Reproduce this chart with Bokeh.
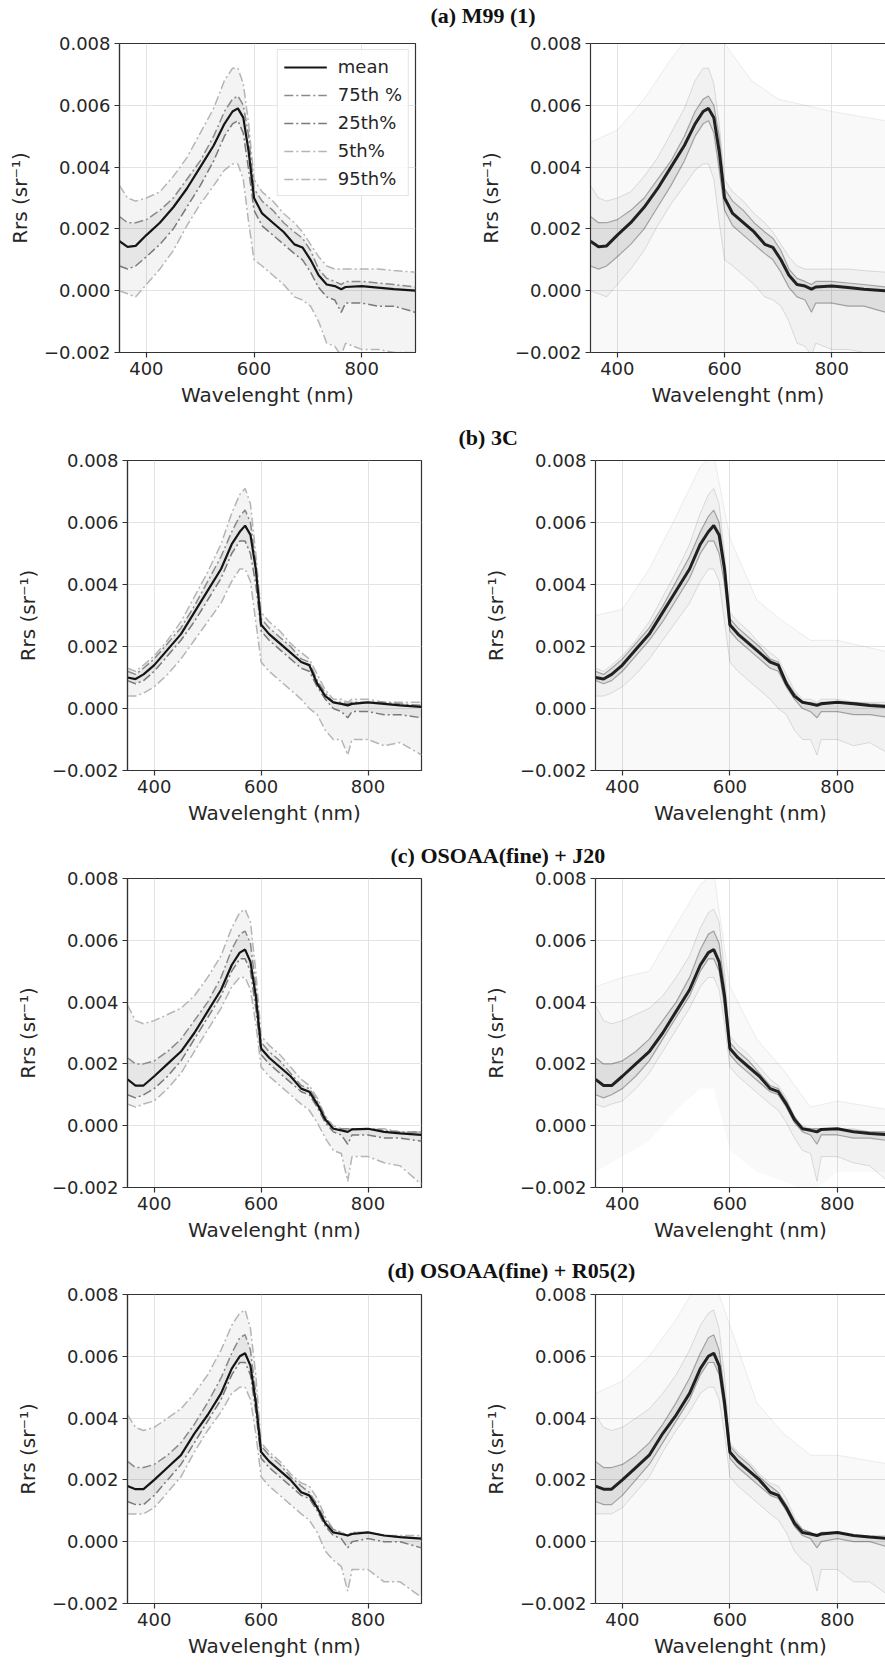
from bokeh.plotting import figure
from bokeh.layouts import column, row
from bokeh.models import (Range1d, FixedTicker, CustomJSTickFormatter, LinearAxis,
                          Legend, LegendItem)
from bokeh.core.properties import value
from bokeh.embed import file_html
from bokeh.resources import INLINE

# ---------------- data ----------------
WL = [350, 365, 380, 400, 425, 450, 475, 500, 525, 545, 560, 570, 580, 590, 600,
      615, 635, 655, 675, 690, 705, 720, 735, 750, 762, 770, 800, 830, 860, 900]

TITLES = ["(a) M99 (1)", "(b) 3C", "(c) OSOAA(fine) + J20", "(d) OSOAA(fine) + R05(2)"]
X_TICKS = [400, 600, 800]
Y_TICKS = [-0.002, 0.0, 0.002, 0.004, 0.006, 0.008]

# (a) M99 (1)
A_MEAN = [0.0016, 0.00142, 0.00145, 0.0018, 0.0022, 0.0027, 0.0033, 0.0040, 0.0047, 0.0054, 0.0058, 0.0059, 0.0056, 0.0045, 0.0030,
          0.0025, 0.0022, 0.0019, 0.0015, 0.0014, 0.0010, 0.0005, 0.0002, 0.00015, 0.00005, 0.00012, 0.00015, 0.0001, 0.00005, 0.0]
A_P75 = [0.0024, 0.0022, 0.0022, 0.0023, 0.0026, 0.0030, 0.0036, 0.0042, 0.0050, 0.0058, 0.0062, 0.0063, 0.0060, 0.0050, 0.0033,
         0.0029, 0.0026, 0.0022, 0.0019, 0.0017, 0.0013, 0.0007, 0.0004, 0.0003, 0.0002, 0.0003, 0.0003, 0.00025, 0.0002, 0.00012]
A_P25 = [0.0008, 0.0007, 0.0008, 0.0011, 0.0015, 0.0020, 0.0027, 0.0034, 0.0042, 0.0050, 0.0054, 0.0055, 0.0051, 0.0039, 0.0026,
         0.0021, 0.0018, 0.0015, 0.0012, 0.0010, 0.0006, 0.0001, -0.0002, -0.0003, -0.0007, -0.0004, -0.0004, -0.0005, -0.0005, -0.0007]
A_P95 = [0.0034, 0.0030, 0.0029, 0.0030, 0.0032, 0.0037, 0.0043, 0.0051, 0.0059, 0.0068, 0.0072, 0.0072, 0.0067, 0.0054, 0.0036,
         0.0032, 0.0029, 0.0025, 0.0022, 0.0019, 0.0015, 0.0011, 0.0008, 0.0007, 0.0007, 0.0007, 0.0007, 0.0007, 0.00065, 0.0006]
A_P5 = [0.0, -0.0001, -0.0002, 0.0002, 0.0007, 0.0013, 0.0021, 0.0028, 0.0034, 0.0039, 0.0041, 0.0041, 0.0036, 0.0022, 0.0010,
        0.0008, 0.0005, 0.0002, -0.0002, -0.0003, -0.0005, -0.0010, -0.0017, -0.0018, -0.0021, -0.0017, -0.0019, -0.0019, -0.0020, -0.0020]

# (b) 3C
B_MEAN = [0.0010, 0.00095, 0.0011, 0.0014, 0.0019, 0.0024, 0.0031, 0.0038, 0.0045, 0.0053, 0.0057, 0.0059, 0.0056, 0.0045, 0.0027,
          0.0024, 0.0021, 0.0018, 0.0015, 0.0014, 0.0008, 0.0004, 0.0002, 0.00015, 0.0001, 0.00015, 0.0002, 0.00015, 0.0001, 0.00005]
B_P75 = [0.0012, 0.0011, 0.0013, 0.0016, 0.0021, 0.0026, 0.0033, 0.0041, 0.0049, 0.0057, 0.0062, 0.0064, 0.0060, 0.0047, 0.0029,
         0.0026, 0.0023, 0.0020, 0.0016, 0.0015, 0.0009, 0.0005, 0.0002, 0.0002, 0.00015, 0.0002, 0.0002, 0.0002, 0.00015, 0.0001]
B_P25 = [0.0009, 0.0008, 0.0009, 0.0012, 0.0017, 0.0022, 0.0028, 0.0035, 0.0042, 0.0050, 0.0054, 0.0054, 0.0050, 0.0040, 0.0025,
         0.0022, 0.0019, 0.0016, 0.0013, 0.0012, 0.0007, 0.0003, 0.0, -0.0001, -0.0003, -0.0001, -0.0001, -0.0002, -0.0002, -0.0003]
B_P95 = [0.0013, 0.0012, 0.0014, 0.0017, 0.0022, 0.0028, 0.0036, 0.0044, 0.0053, 0.0063, 0.0069, 0.0071, 0.0066, 0.0050, 0.0031,
         0.0028, 0.0025, 0.0021, 0.0018, 0.0016, 0.0011, 0.0006, 0.0003, 0.0003, 0.0002, 0.0003, 0.0003, 0.0002, 0.0002, 0.0002]
B_P5 = [0.0004, 0.0004, 0.0005, 0.0007, 0.0011, 0.0016, 0.0022, 0.0028, 0.0034, 0.0041, 0.0045, 0.0045, 0.0041, 0.0028, 0.0015,
        0.0012, 0.0009, 0.0006, 0.0003, 0.0, -0.0002, -0.0007, -0.0010, -0.0010, -0.0015, -0.0010, -0.0010, -0.0012, -0.0011, -0.0015]

# (c) OSOAA(fine) + J20
C_MEAN = [0.0015, 0.0013, 0.0013, 0.0016, 0.0020, 0.0024, 0.0030, 0.0037, 0.0044, 0.0052, 0.0056, 0.0057, 0.0053, 0.0042, 0.0025,
          0.0022, 0.0019, 0.0016, 0.0012, 0.0011, 0.0007, 0.0002, -0.0001, -0.00015, -0.0002, -0.00012, -0.0001, -0.0002, -0.00025, -0.0003]
C_P75 = [0.0022, 0.0020, 0.0020, 0.0021, 0.0024, 0.0028, 0.0034, 0.0040, 0.0048, 0.0057, 0.0062, 0.0063, 0.0059, 0.0045, 0.0027,
         0.0024, 0.0021, 0.0017, 0.0013, 0.0012, 0.0008, 0.0003, -0.0001, -0.0001, -0.0001, -0.0001, -0.0001, -0.00015, -0.0002, -0.0002]
C_P25 = [0.0010, 0.0009, 0.0010, 0.0012, 0.0016, 0.0021, 0.0028, 0.0035, 0.0042, 0.0050, 0.0054, 0.0054, 0.0050, 0.0038, 0.0023,
         0.0020, 0.0017, 0.0014, 0.0011, 0.0010, 0.0006, 0.0001, -0.0002, -0.0003, -0.0006, -0.0003, -0.0003, -0.0004, -0.0004, -0.0005]
C_P95 = [0.0039, 0.0034, 0.0033, 0.0034, 0.0036, 0.0038, 0.0042, 0.0048, 0.0055, 0.0064, 0.0069, 0.0070, 0.0066, 0.0050, 0.0029,
         0.0026, 0.0023, 0.0019, 0.0015, 0.0013, 0.0009, 0.0003, 0.0, -0.0001, -0.0001, -0.0001, -0.0001, -0.0001, -0.0002, -0.0002]
C_P5 = [0.0007, 0.0006, 0.0007, 0.0008, 0.0012, 0.0017, 0.0024, 0.0031, 0.0038, 0.0045, 0.0048, 0.0048, 0.0044, 0.0033, 0.0019,
        0.0016, 0.0013, 0.0010, 0.0007, 0.0005, 0.0001, -0.0004, -0.0008, -0.0009, -0.0018, -0.0010, -0.0010, -0.0012, -0.0013, -0.0019]

# (d) OSOAA(fine) + R05(2)
D_MEAN = [0.0018, 0.0017, 0.0017, 0.0020, 0.0024, 0.0028, 0.0035, 0.0041, 0.0048, 0.0056, 0.0060, 0.0061, 0.0057, 0.0045, 0.0029,
          0.0026, 0.0023, 0.0020, 0.0016, 0.0015, 0.0011, 0.0006, 0.0003, 0.00025, 0.0002, 0.00025, 0.0003, 0.0002, 0.00015, 0.0001]
D_P75 = [0.0026, 0.0024, 0.0024, 0.0025, 0.0028, 0.0032, 0.0038, 0.0045, 0.0053, 0.0061, 0.0066, 0.0067, 0.0062, 0.0048, 0.0031,
         0.0028, 0.0025, 0.0021, 0.0018, 0.0016, 0.0012, 0.0007, 0.0004, 0.0003, 0.0002, 0.0003, 0.0003, 0.0002, 0.00015, 0.0001]
D_P25 = [0.0013, 0.0012, 0.0012, 0.0015, 0.0020, 0.0025, 0.0032, 0.0039, 0.0046, 0.0054, 0.0058, 0.0058, 0.0054, 0.0042, 0.0027,
         0.0024, 0.0021, 0.0018, 0.0015, 0.0014, 0.0010, 0.0005, 0.0002, 0.0001, -0.0002, 0.0, 0.0001, 0.0, 0.0, -0.0002]
D_P95 = [0.0041, 0.0037, 0.0036, 0.0037, 0.0040, 0.0043, 0.0048, 0.0054, 0.0062, 0.0070, 0.0074, 0.0075, 0.0069, 0.0054, 0.0032,
         0.0029, 0.0026, 0.0022, 0.0019, 0.0018, 0.0014, 0.0008, 0.0004, 0.0003, 0.0002, 0.0003, 0.0003, 0.0002, 0.0002, 0.0002]
D_P5 = [0.0009, 0.0009, 0.0009, 0.0011, 0.0016, 0.0021, 0.0029, 0.0036, 0.0042, 0.0048, 0.0050, 0.0050, 0.0046, 0.0035, 0.0021,
        0.0018, 0.0015, 0.0012, 0.0009, 0.0007, 0.0003, -0.0003, -0.0006, -0.0008, -0.0016, -0.0009, -0.0009, -0.0013, -0.0013, -0.0018]

# outer envelope of the faint individual spectra (right-hand panels)
ENV_WL = [350, 400, 450, 500, 545, 570, 600, 650, 700, 750, 800, 900]
A_UP = [0.0048, 0.0052, 0.0062, 0.0075, 0.0085, 0.0085, 0.0080, 0.0068, 0.0062, 0.0060, 0.0058, 0.0055]
A_LO = [-0.0025, -0.0025, -0.0025, -0.0025, -0.0025, -0.0025, -0.0025, -0.0025, -0.0025, -0.0025, -0.0025, -0.0025]
B_UP = [0.0030, 0.0032, 0.0045, 0.0062, 0.0078, 0.0082, 0.0055, 0.0035, 0.0028, 0.0022, 0.0022, 0.0018]
B_LO = [-0.0025, -0.0025, -0.0025, -0.0025, -0.0025, -0.0025, -0.0025, -0.0025, -0.0025, -0.0025, -0.0025, -0.0025]
C_UP = [0.0045, 0.0048, 0.0050, 0.0065, 0.0078, 0.0082, 0.0045, 0.0028, 0.0018, 0.0006, 0.0008, 0.0005]
C_LO = [-0.0015, -0.0010, -0.0005, 0.0005, 0.0012, 0.0012, -0.0008, -0.0015, -0.0018, -0.0022, -0.0015, -0.0015]
D_UP = [0.0048, 0.0052, 0.0060, 0.0072, 0.0085, 0.0085, 0.0070, 0.0045, 0.0035, 0.0028, 0.0028, 0.0025]
D_LO = [-0.0025, -0.0025, -0.0025, -0.0025, -0.0025, -0.0025, -0.0025, -0.0025, -0.0025, -0.0025, -0.0025, -0.0025]

PANELS = [
    dict(mean=A_MEAN, p75=A_P75, p25=A_P25, p95=A_P95, p5=A_P5, up=A_UP, lo=A_LO),
    dict(mean=B_MEAN, p75=B_P75, p25=B_P25, p95=B_P95, p5=B_P5, up=B_UP, lo=B_LO),
    dict(mean=C_MEAN, p75=C_P75, p25=C_P25, p95=C_P95, p5=C_P5, up=C_UP, lo=C_LO),
    dict(mean=D_MEAN, p75=D_P75, p25=D_P25, p95=D_P95, p5=D_P5, up=D_UP, lo=D_LO),
]

# ---------------- layout geometry ----------------
# title strip heights / text centre, then per row borders and frame sizes
STRIP_H = [32, 34, 35, 33]
STRIP_TY = [17, 12, 12, 13]      # distance of the title centre from the strip bottom
ROWS = [
    dict(top=11, fh=309, bottom=63, lb=119, lw=296, rb=120, rw=295, rx_end=900.0),
    dict(top=11, fh=310, bottom=62, lb=127, lw=294, rb=125, rw=290, rx_end=889.5),
    dict(top=11, fh=309, bottom=63, lb=127, lw=294, rb=125, rw=290, rx_end=889.5),
    dict(top=11, fh=309, bottom=65, lb=127, lw=294, rb=125, rw=290, rx_end=889.5),
]
TITLE_X = [430, 458, 390, 387]
LEFT_W = 470
TOTAL_W = 885

FONT = "DejaVu Sans"
SPINE = "#333333"
DASHDOT = "9 3 2 3"

yfmt_code = "return (tick < -1e-12 ? '\u2212' : '') + Math.abs(tick).toFixed(3);"


def style(p, right=False):
    p.xaxis.ticker = FixedTicker(ticks=X_TICKS)
    p.yaxis.ticker = FixedTicker(ticks=Y_TICKS)
    p.xgrid.ticker = FixedTicker(ticks=X_TICKS)
    p.ygrid.ticker = FixedTicker(ticks=Y_TICKS)
    p.yaxis.formatter = CustomJSTickFormatter(code=yfmt_code)
    p.grid.grid_line_color = "#e3e3e3"
    p.grid.grid_line_width = 1
    for ax in p.xaxis + p.yaxis:
        ax.axis_line_color = SPINE
        ax.axis_line_width = 1.2
        ax.major_tick_line_color = SPINE
        ax.major_tick_line_width = 1.2
        ax.major_tick_out = 5
        ax.major_tick_in = 0
        ax.minor_tick_line_color = None
        ax.major_label_text_font = FONT
        ax.major_label_text_font_size = "18px"
        ax.major_label_text_color = "#262626"
        ax.axis_label_text_font = FONT
        ax.axis_label_text_font_size = "20px"
        ax.axis_label_text_font_style = "normal"
        ax.axis_label_text_color = "#262626"
        ax.major_label_standoff = 4
    p.xaxis.axis_label = "Wavelenght (nm)"
    p.xaxis.axis_label_standoff = 5
    p.yaxis.axis_label = "Rrs (sr\u207b\u00b9)"
    p.yaxis.axis_label_standoff = 9
    p.background_fill_color = "white"
    p.border_fill_color = "white"
    if right:
        p.outline_line_color = None
        top = LinearAxis(ticker=FixedTicker(ticks=[]), major_label_text_font_size="0px",
                         major_tick_out=0, major_tick_in=0, minor_tick_out=0, minor_tick_in=0,
                         major_label_standoff=0, axis_line_color=SPINE, axis_line_width=1.2)
        p.add_layout(top, "above")
    else:
        p.outline_line_color = SPINE
        p.outline_line_width = 1.2
        p.outline_line_alpha = 1.0


rows_out = []
for i, (d, g) in enumerate(zip(PANELS, ROWS)):
    # title strip
    sh = STRIP_H[i]
    t = figure(width=TOTAL_W, height=sh, x_range=Range1d(0, TOTAL_W), y_range=Range1d(0, sh),
               toolbar_location=None, output_backend="svg", x_axis_type=None, y_axis_type=None,
               min_border=0, outline_line_color=None)
    t.grid.visible = False
    t.text(x=[TITLE_X[i]], y=[STRIP_TY[i]], text=[TITLES[i]], text_font=value("Liberation Serif"),
           text_font_style="bold", text_font_size="22px", text_baseline="middle",
           text_align="left", text_color="#111111")
    rows_out.append(t)

    # left: statistics panel
    pl = figure(frame_width=g["lw"], frame_height=g["fh"],
                x_range=Range1d(350, 900), y_range=Range1d(-0.002, 0.008),
                min_border_left=g["lb"], min_border_right=LEFT_W - g["lb"] - g["lw"],
                min_border_top=g["top"], min_border_bottom=g["bottom"],
                toolbar_location=None, output_backend="svg")
    style(pl)
    pl.varea(x=WL, y1=d["p5"], y2=d["p95"], fill_color="black", fill_alpha=0.045)
    pl.varea(x=WL, y1=d["p25"], y2=d["p75"], fill_color="black", fill_alpha=0.055)
    r95 = pl.line(WL, d["p95"], line_color="#b5b5b5", line_width=1.5, line_dash=DASHDOT)
    r5 = pl.line(WL, d["p5"], line_color="#b5b5b5", line_width=1.5, line_dash=DASHDOT)
    r25 = pl.line(WL, d["p25"], line_color="#7a7a7a", line_width=1.5, line_dash=DASHDOT)
    r75 = pl.line(WL, d["p75"], line_color="#8a8a8a", line_width=1.5, line_dash=DASHDOT)
    rm = pl.line(WL, d["mean"], line_color="#151515", line_width=2.2)
    if i == 0:
        leg = Legend(items=[LegendItem(label="mean", renderers=[rm]),
                            LegendItem(label="75th %", renderers=[r75]),
                            LegendItem(label="25th%", renderers=[r25]),
                            LegendItem(label="5th%", renderers=[r5]),
                            LegendItem(label="95th%", renderers=[r95])],
                     location="top_right")
        leg.label_text_font = FONT
        leg.label_text_font_size = "18px"
        leg.label_text_color = "#262626"
        leg.glyph_width = 43
        leg.glyph_height = 20
        leg.label_height = 20
        leg.label_standoff = 11
        leg.spacing = 7
        leg.padding = 6
        leg.margin = 6
        leg.border_line_color = "#cccccc"
        leg.border_line_width = 1
        leg.background_fill_alpha = 0.85
        pl.add_layout(leg)

    # right: all spectra panel
    pr = figure(frame_width=g["rw"], frame_height=g["fh"],
                x_range=Range1d(350, g["rx_end"]), y_range=Range1d(-0.002, 0.008),
                min_border_left=g["rb"], min_border_right=0,
                min_border_top=g["top"], min_border_bottom=g["bottom"],
                toolbar_location=None, output_backend="svg")
    style(pr, right=True)
    pr.varea(x=ENV_WL, y1=d["lo"], y2=d["up"], fill_color="black", fill_alpha=0.022)
    pr.varea(x=WL, y1=d["p5"], y2=d["p95"], fill_color="black", fill_alpha=0.03)
    pr.varea(x=WL, y1=d["p25"], y2=d["p75"], fill_color="black", fill_alpha=0.08)
    pr.line(ENV_WL, d["up"], line_color="black", line_alpha=0.07, line_width=1)
    pr.line(WL, d["p95"], line_color="black", line_alpha=0.12, line_width=1)
    pr.line(WL, d["p5"], line_color="black", line_alpha=0.12, line_width=1)
    pr.line(WL, d["p75"], line_color="black", line_alpha=0.3, line_width=1.2)
    pr.line(WL, d["p25"], line_color="black", line_alpha=0.3, line_width=1.2)
    pr.line(WL, d["mean"], line_color="black", line_alpha=0.85, line_width=3)

    rows_out.append(row(pl, pr, spacing=0))

layout = column(*rows_out, spacing=0)
open("out.html", "w").write(file_html(layout, INLINE))
